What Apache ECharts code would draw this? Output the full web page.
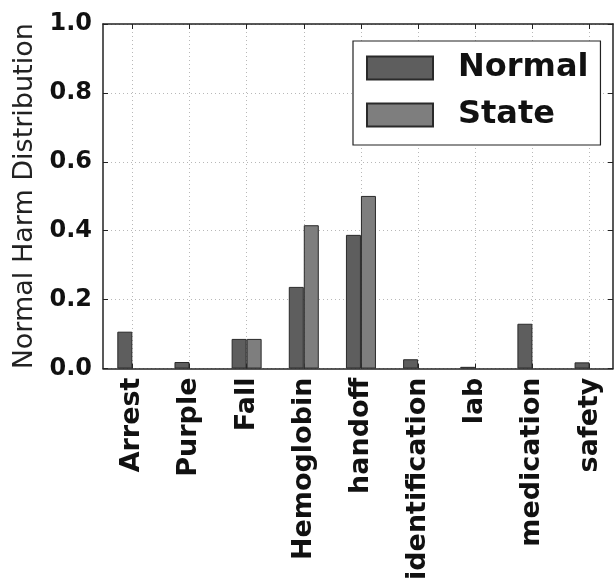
<!DOCTYPE html>
<html>
<head>
<meta charset="utf-8">
<script src="https://cdn.jsdelivr.net/npm/echarts@6/dist/echarts.min.js"></script>
<style>
  html, body { margin: 0; padding: 0; background: #fff; }
  #chart { width: 616px; height: 583px; }
</style>
</head>
<body>
<div id="chart"></div>
<script>
// Harm categories and per-category share of harm events
const categories = ['Arrest', 'Purple', 'Fall', 'Hemoglobin', 'handoff', 'identification', 'lab', 'medication', 'safety'];
const normalValues = [0.107, 0.019, 0.086, 0.237, 0.388, 0.027, 0.005, 0.130, 0.018];
const stateValues = [0, 0, 0.086, 0.416, 0.501, 0, 0, 0, 0];
const yTicks = [0, 0.2, 0.4, 0.6, 0.8, 1.0];

const FONT = 'DejaVu Sans';
const catIdx = categories.map((_, i) => i);
const xMin = -0.513, xMax = 8.41;

// zero-height bars are left undrawn so they don't leave stubs on the baseline
const toPoints = vals => vals.map((v, i) => (v > 0 ? [i, v] : [i, '-']));

const chart = echarts.init(document.getElementById('chart'), null, { renderer: 'canvas' });

const frameLine = { show: true, onZero: false, lineStyle: { color: '#222', width: 1.5 } };
const inTick = { show: true, inside: true, length: 5, lineStyle: { color: '#222', width: 1 } };
const gridLine = { show: true, lineStyle: { color: '#b8b8b8', type: [1, 3], width: 1 } };

chart.setOption({
  animation: false,
  backgroundColor: '#fff',
  grid: { left: 103, right: 3, top: 24, bottom: 213, containLabel: false },
  legend: {
    orient: 'vertical',
    left: 353,
    top: 41,
    padding: [9, 12, 12, 13],
    itemGap: 11,
    itemWidth: 66,
    itemHeight: 23,
    icon: 'rect',
    borderColor: '#222',
    borderWidth: 1.2,
    borderRadius: 0,
    backgroundColor: '#fff',
    data: ['Normal', 'State'],
    textStyle: {
      fontFamily: FONT,
      fontWeight: 'bold',
      fontSize: 32,
      lineHeight: 36,
      color: '#111',
      padding: [0, 0, 0, 20]
    }
  },
  xAxis: [
    {
      type: 'value',
      position: 'bottom',
      min: xMin,
      max: xMax,
      axisLine: frameLine,
      axisTick: Object.assign({ customValues: catIdx }, inTick),
      splitLine: gridLine,
      axisLabel: {
        customValues: catIdx,
        rotate: 90,
        margin: 9,
        fontFamily: FONT,
        fontWeight: 'bold',
        fontSize: 27,
        color: '#111',
        formatter: v => categories[Math.round(v)]
      }
    },
    {
      type: 'value',
      position: 'top',
      min: xMin,
      max: xMax,
      axisLine: frameLine,
      axisTick: Object.assign({ customValues: catIdx }, inTick),
      axisLabel: { show: false },
      splitLine: { show: false }
    }
  ],
  yAxis: [
    {
      type: 'value',
      position: 'left',
      min: 0,
      max: 1,
      interval: 0.2,
      name: 'Normal Harm Distribution',
      nameLocation: 'middle',
      nameGap: 64,
      nameTextStyle: { fontFamily: FONT, fontSize: 27, color: '#222' },
      axisLine: frameLine,
      axisTick: inTick,
      splitLine: gridLine,
      axisLabel: {
        margin: 11,
        fontFamily: FONT,
        fontWeight: 'bold',
        fontSize: 24,
        color: '#111',
        formatter: v => v.toFixed(1)
      }
    },
    {
      type: 'value',
      position: 'right',
      min: 0,
      max: 1,
      interval: 0.2,
      axisLine: frameLine,
      axisTick: inTick,
      axisLabel: { show: false },
      splitLine: { show: false }
    }
  ],
  series: [
    {
      name: 'Normal',
      type: 'bar',
      xAxisIndex: 0,
      yAxisIndex: 0,
      barWidth: 15,
      barGap: '0%',
      itemStyle: { color: '#5e5e5e', borderColor: '#2a2a2a', borderWidth: 1 },
      data: toPoints(normalValues)
    },
    {
      name: 'State',
      type: 'bar',
      xAxisIndex: 0,
      yAxisIndex: 0,
      barWidth: 15,
      barGap: '0%',
      itemStyle: { color: '#7e7e7e', borderColor: '#2a2a2a', borderWidth: 1 },
      data: toPoints(stateValues)
    }
  ]
});
</script>
</body>
</html>
